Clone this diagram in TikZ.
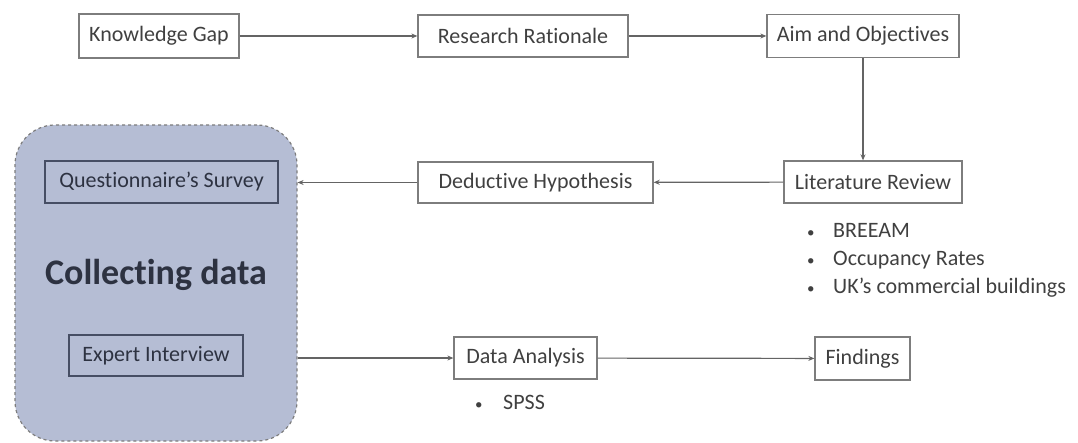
\documentclass[tikz,border=0pt]{standalone}
\usepackage{fontspec}
\setmainfont{Carlito}[Ligatures=NoCommon]
\usetikzlibrary{arrows.meta}
\definecolor{boxline}{RGB}{125,125,125}
\definecolor{boxtext}{RGB}{64,64,64}
\definecolor{innerline}{RGB}{70,78,100}
\definecolor{innertext}{RGB}{45,50,65}
\definecolor{collectfill}{RGB}{181,189,212}
\definecolor{arrowline}{RGB}{100,100,100}
\newcommand{\listdot}{{\fontsize{15}{15}\selectfont\textbullet}}
\tikzset{
  stepbox/.style={draw=boxline, line width=1.3pt, text=boxtext, inner sep=0pt,
    font=\fontsize{22}{26}\selectfont},
  innerbox/.style={stepbox, draw=innerline, text=innertext},
  item/.style={anchor=west, inner sep=0pt, text=boxtext,
    font=\fontsize{22}{26}\selectfont},
}
\begin{document}
\begin{tikzpicture}[x=1pt, y=-1pt]
      \useasboundingbox (0,0) rectangle (1078,443);
      \draw
        (156,283) node[draw=boxline, dashed, line width=1.2pt, fill=collectfill,
          rounded corners=40pt, minimum width=282pt, minimum height=316pt] (collect){}
        (156,275) node[text=innertext, font=\fontsize{36}{40}\selectfont\bfseries] (collectlabel){Collecting data}
        (161.5,182) node[innerbox, minimum width=233pt, minimum height=42pt] (survey){Questionnaire's Survey}
        (156,355.5) node[innerbox, minimum width=174pt, minimum height=41pt] (interview){Expert Interview}
        (159,36) node[stepbox, minimum width=160pt, minimum height=44pt] (gap){Knowledge Gap}
        (523,36) node[stepbox, minimum width=210pt, minimum height=42pt] (rationale){Research Rationale}
        (863,36) node[stepbox, minimum width=192pt, minimum height=43pt] (aims){Aim and Objectives}
        (873,182) node[stepbox, minimum width=178pt, minimum height=42pt] (review){Literature Review}
        (535.5,182.5) node[stepbox, minimum width=235pt, minimum height=41pt] (hypothesis){Deductive Hypothesis}
        (525.5,358) node[stepbox, minimum width=143pt, minimum height=42pt] (analysis){Data Analysis}
        (862.5,358.5) node[stepbox, minimum width=95pt, minimum height=43pt] (findings){Findings};
      \draw
        (807,230) node[item] (breeam){\makebox[26pt][l]{\listdot}BREEAM}
        (807,260) node[item] (occupancy){\makebox[26pt][l]{\listdot}Occupancy Rates}
        (807,288) node[item] (ukbuildings){\makebox[26pt][l]{\listdot}UK’s commercial buildings}
        (475,402) node[item] (spss){\makebox[28pt][l]{\listdot}SPSS};
      \begin{scope}[-{Stealth[length=6pt,width=5pt]}, draw=arrowline, line width=1.2pt]
        \draw (gap) to (rationale);
        \draw (rationale) to (aims);
        \draw (aims.south) to (aims.south |- review.north);
        \draw (review) to (hypothesis);
        \draw (hypothesis.west) to (hypothesis.west -| collect.east);
        \draw (collect.east |- analysis.west) to (analysis.west);
        \draw (analysis) to (findings);
      \end{scope}
    \end{tikzpicture}
\end{document}
